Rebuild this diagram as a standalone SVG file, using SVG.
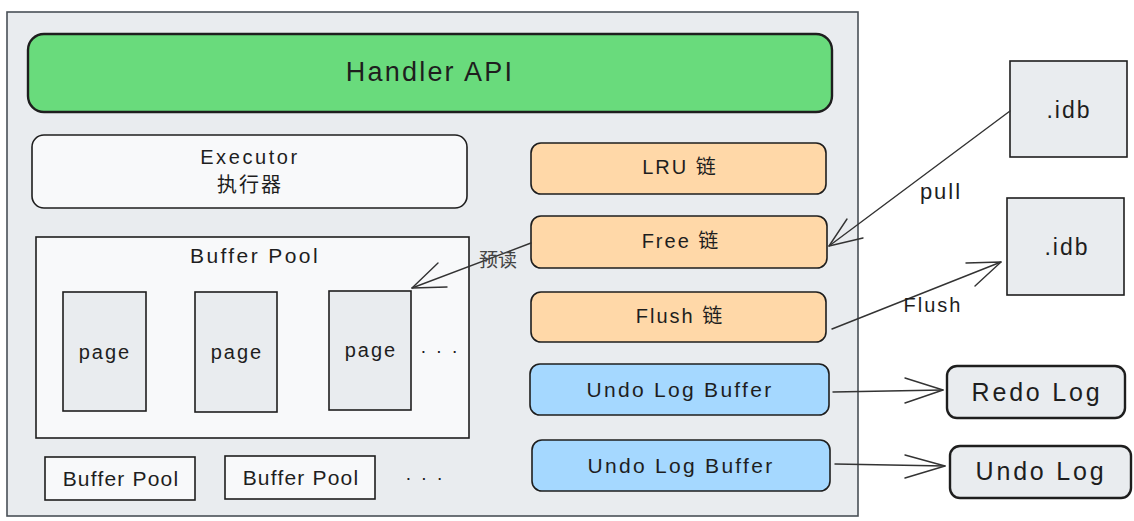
<svg xmlns="http://www.w3.org/2000/svg" width="1134" height="521" viewBox="0 0 1134 521">
<style>
text{font-family:"Liberation Sans","Noto Sans CJK SC",sans-serif;fill:#1e1e1e;text-anchor:middle;dominant-baseline:central;letter-spacing:2px}
.b{stroke:#1e1e1e;stroke-width:1.6}
.thick{stroke:#1e1e1e;stroke-width:2.4}
.gray{fill:#e9ecef}
.white{fill:#f8f9fa}
.orange{fill:#ffd8a8}
.blue{fill:#a5d8ff}
.conn{fill:none;stroke:#333;stroke-width:1.4;stroke-linecap:round;stroke-linejoin:round}
</style>
<rect x="0" y="0" width="1134" height="521" fill="#ffffff"/>
<g id="container">
<rect x="7" y="12" width="851" height="504" fill="#e9ecef" stroke="#495057" stroke-width="1.6"/>
</g>
<g id="handler">
<rect x="28" y="34" width="804" height="78" rx="16" fill="#69db7c" class="thick"/>
<text x="430" y="72" font-size="27" style="letter-spacing:2.2px">Handler API</text>
</g>
<g id="executor">
<rect x="32" y="135" width="435" height="73" rx="12" class="white b"/>
<text x="250" y="157" font-size="20" style="letter-spacing:2.6px">Executor</text>
<text x="250" y="185" font-size="20">执行器</text>
</g>
<g id="bufferpool">
<rect x="36" y="237" width="433" height="201" class="white b"/>
<text x="255" y="255" font-size="21" style="letter-spacing:2.4px">Buffer Pool</text>
</g>
<g id="page1">
<rect x="63" y="292" width="83" height="119" class="gray b"/>
<text x="105" y="352" font-size="20">page</text>
</g>
<g id="page2">
<rect x="195" y="292" width="82" height="120" class="gray b"/>
<text x="237" y="352" font-size="20">page</text>
</g>
<g id="page3">
<rect x="329" y="291" width="82" height="119" class="gray b"/>
<text x="371" y="350" font-size="20">page</text>
</g>
<g id="dots1"><text x="440" y="350" font-size="19">· · ·</text></g>
<g id="bp2">
<rect x="45" y="457" width="150" height="43" class="white b"/>
<text x="121" y="478" font-size="21" style="letter-spacing:1.2px">Buffer Pool</text>
</g>
<g id="bp3">
<rect x="225" y="456" width="150" height="43" class="white b"/>
<text x="301" y="477" font-size="21" style="letter-spacing:1.2px">Buffer Pool</text>
</g>
<g id="dots2"><text x="425" y="477" font-size="19">· · ·</text></g>
<g id="lru">
<rect x="531" y="143" width="295" height="51" rx="10" class="orange b"/>
<text x="680" y="167" font-size="20">LRU 链</text>
</g>
<g id="free">
<rect x="531" y="216" width="296" height="52" rx="10" class="orange b"/>
<text x="681" y="241" font-size="20">Free 链</text>
</g>
<g id="flush">
<rect x="531" y="292" width="295" height="50" rx="10" class="orange b"/>
<text x="680" y="316" font-size="20">Flush 链</text>
</g>
<g id="undobuf1">
<rect x="530" y="364" width="299" height="51" rx="10" class="blue b"/>
<text x="680" y="389" font-size="21" style="letter-spacing:2.3px">Undo Log Buffer</text>
</g>
<g id="undobuf2">
<rect x="532" y="440" width="298" height="51" rx="10" class="blue b"/>
<text x="681" y="465" font-size="21" style="letter-spacing:2.3px">Undo Log Buffer</text>
</g>
<g id="idb1">
<rect x="1010" y="61" width="117" height="96" class="gray b"/>
<text x="1069" y="110" font-size="23">.idb</text>
</g>
<g id="idb2">
<rect x="1007" y="198" width="117" height="97" class="gray b"/>
<text x="1067" y="247" font-size="23">.idb</text>
</g>
<g id="redolog">
<rect x="947" y="366" width="178" height="52" rx="10" class="gray thick"/>
<text x="1037" y="392" font-size="25" style="letter-spacing:2.8px">Redo Log</text>
</g>
<g id="undolog">
<rect x="950" y="446" width="181" height="52" rx="10" class="gray thick"/>
<text x="1041" y="471" font-size="25" style="letter-spacing:2.8px">Undo Log</text>
</g>
<g id="connectors">
<path class="conn" d="M1010 111 L829 246"/>
<path class="conn" d="M847 219 L829 246 L863 238"/>
<text x="941" y="191" font-size="22">pull</text>
<path class="conn" d="M832 329 L1001 262"/>
<path class="conn" d="M966 263 L1001 262 L975 286"/>
<text x="933" y="305" font-size="20">Flush</text>
<path class="conn" d="M531 243 L412 288"/>
<path class="conn" d="M438 263 L412 288 L447 287"/>
<text x="498" y="260" font-size="19" style="fill:#444;letter-spacing:0">预读</text>
<path class="conn" d="M833 392 L943 390"/>
<path class="conn" d="M905 378 L943 390 L905 403"/>
<path class="conn" d="M835 464 L945 466"/>
<path class="conn" d="M905 455 L945 466 L905 478"/>
</g>
</svg>
